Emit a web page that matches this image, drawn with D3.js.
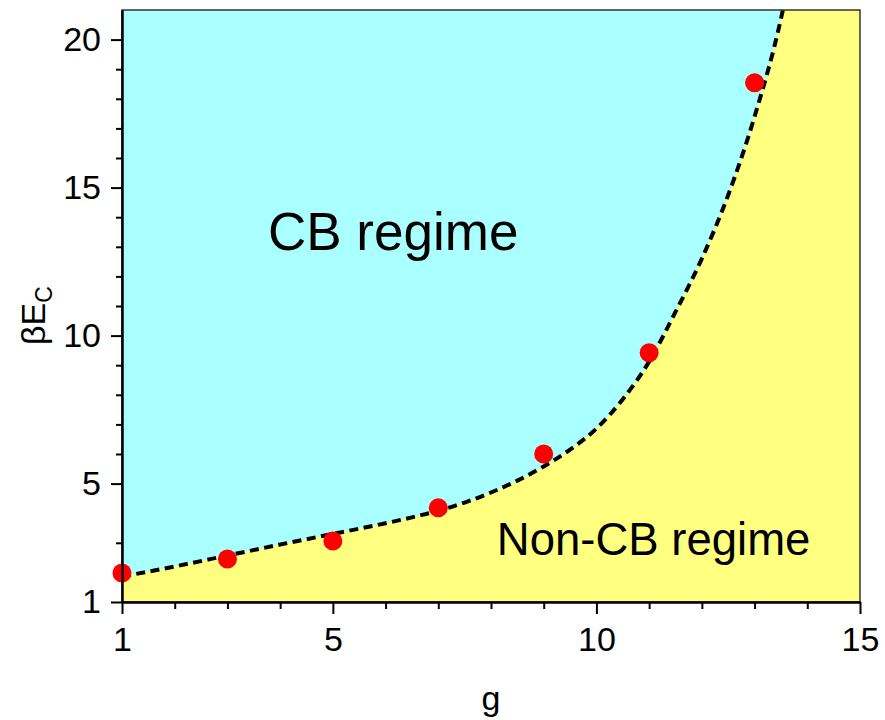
<!DOCTYPE html>
<meta charset="utf-8">
<script src="https://d3js.org/d3.v7.min.js"></script>
<html>
  <head>
    <style>
      body { margin: 0; background: #fff; }
      text { font-family: "Liberation Sans", Arial, sans-serif; fill: #000; }
    </style>
  </head>
  <body>
    <div id="chart"></div>
  </body>
</html>
<script>

// red points (g, beta*Ec)
var gDots  = [1, 3, 5, 7, 9, 11, 13];
var ecDots = [1.98, 2.45, 3.06, 4.18, 6.0, 9.42, 18.54];

// dashed boundary
var gLine  = [1, 2, 3, 4, 5, 6, 6.5, 7, 7.5, 8, 8.5, 9, 9.5, 10, 10.5, 11, 11.5, 12, 12.5, 13, 13.5, 13.7];
var ecLine = [1.86, 2.2, 2.57, 2.94, 3.30, 3.66, 3.86, 4.08, 4.36, 4.70, 5.10, 5.58, 6.15, 6.86, 7.85, 9.12, 10.8, 12.6, 14.75, 17.4, 20.7, 22.4];

// ticks
var xMajor = [1, 5, 10, 15];
var xMinor = [2, 3, 4, 6, 7, 8, 9, 11, 12, 13, 14];
var yMajor = [1, 5, 10, 15, 20];
var yMinor = [3, 6, 7, 8, 9, 11, 12, 13, 14, 16, 17, 18, 19];

var margin = {top: 10, right: 25, bottom: 118, left: 122},
    width = 885 - margin.left - margin.right,
    height = 720 - margin.top - margin.bottom;

var svg = d3.select("#chart")
  .append("svg")
    .attr("width", 885)
    .attr("height", 720)
  .append("g")
    .attr("transform", "translate(" + margin.left + "," + margin.top + ")");

var x = d3.scaleLinear().domain([1, 15]).range([0, width]);
var y = d3.scaleLinear().domain([1, 21]).range([height, 0]);

svg.append("clipPath").attr("id", "plotclip")
  .append("rect").attr("width", width).attr("height", height);

// cyan = CB regime (whole background)
svg.append("rect")
  .attr("width", width)
  .attr("height", height)
  .style("fill", "#aaffff");

var line = d3.line()
  .x(function(d) { return x(d[0]); })
  .y(function(d) { return y(d[1]); })
  .curve(d3.curveMonotoneX);

var pts = gLine.map(function(g, i) { return [g, ecLine[i]]; });

// yellow = below / right of the boundary
svg.append("path")
  .attr("clip-path", "url(#plotclip)")
  .attr("d", line(pts) + "L" + width + "," + y(ecLine[ecLine.length - 1]) +
             "L" + width + "," + height + "L0," + height + "Z")
  .style("fill", "#ffff80");

// dashed boundary
svg.append("path")
  .attr("clip-path", "url(#plotclip)")
  .attr("d", line(pts))
  .style("fill", "none")
  .style("stroke", "#000")
  .style("stroke-width", 4)
  .style("stroke-dasharray", "9,5.5");

// frame
svg.append("rect")
  .attr("width", width)
  .attr("height", height)
  .style("fill", "none")
  .style("stroke", "#333")
  .style("stroke-width", 1.5);

// red dots
svg.append("g")
  .selectAll("circle")
  .data(gDots)
  .enter()
  .append("circle")
    .attr("cx", function(d) { return x(d); })
    .attr("cy", function(d, i) { return y(ecDots[i]); })
    .attr("r", 9.5)
    .style("fill", "#ff0000");

// axes
function styleAxis(g) {
  g.selectAll(".domain").style("stroke", "#000").style("stroke-width", 2);
  g.selectAll(".tick line").style("stroke", "#000").style("stroke-width", 2);
  g.selectAll("text").style("font-size", "34px").style("font-family", "Liberation Sans, Arial, sans-serif");
}

svg.append("g")
  .attr("transform", "translate(0," + height + ")")
  .call(d3.axisBottom(x).tickValues(xMinor).tickSize(7).tickSizeOuter(0).tickFormat(""))
  .call(styleAxis);
svg.append("g")
  .attr("transform", "translate(0," + height + ")")
  .call(d3.axisBottom(x).tickValues(xMajor).tickSize(12).tickSizeOuter(0).tickPadding(13))
  .call(styleAxis);

svg.append("g")
  .call(d3.axisLeft(y).tickValues(yMinor).tickSize(6).tickSizeOuter(0).tickFormat(""))
  .call(styleAxis);
svg.append("g")
  .call(d3.axisLeft(y).tickValues(yMajor).tickSize(11).tickSizeOuter(0).tickPadding(10))
  .call(styleAxis);

// region labels
svg.append("text")
  .attr("x", x(3.77))
  .attr("y", y(12.9))
  .style("font-size", "53px")
  .text("CB regime");

svg.append("text")
  .attr("x", x(8.11))
  .attr("y", y(2.59))
  .style("font-size", "45.5px")
  .text("Non-CB regime");

// axis titles
svg.append("text")
  .attr("text-anchor", "middle")
  .attr("x", width / 2)
  .attr("y", height + 108)
  .style("font-size", "34px")
  .text("g");

var yt = svg.append("text")
  .attr("transform", "translate(" + (45 - margin.left) + "," + (345 - margin.top) + ") rotate(-90)")
  .style("font-size", "34px");
yt.append("tspan").text("\u03B2E");
yt.append("tspan").attr("dy", 7).style("font-size", "23px").text("C");

</script>
